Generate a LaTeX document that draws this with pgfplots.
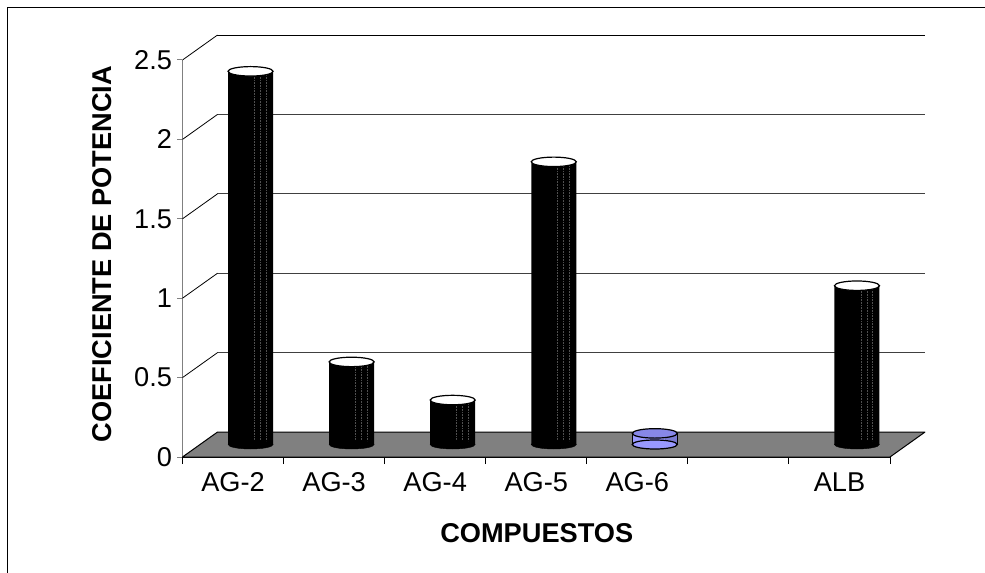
\documentclass[border=0pt]{standalone}
\usepackage{pgfplots}
\usepackage{pgfplotstable}
\pgfplotsset{compat=1.18}
\usepackage{fontspec}
\setmainfont{Liberation Sans}

\definecolor{floorgray}{HTML}{808080}
\definecolor{gridgray}{HTML}{404040}
\definecolor{facet}{HTML}{505050}
\definecolor{lav}{HTML}{9999FF}
\definecolor{lavtop}{HTML}{8787E8}
\definecolor{lavdark}{HTML}{7A7AD0}

% category position, base level, coefficient
\pgfplotstableread{
pos base val
0.5 0 2.35
1.5 0 0.52
2.5 0 0.28
3.5 0 1.78
6.5 0 1.00
}\blackcyl
\pgfplotstableread{
pos base val
4.5 0 0.07
}\bluecyl

\newcommand{\chartfont}{\fontsize{27.2bp}{32bp}\selectfont}

\begin{document}
\begin{tikzpicture}
\begin{axis}[
  scale only axis,
  width=707.5bp, height=397bp,
  xmin=0, xmax=7, ymin=0, ymax=2.5,
  clip=false,
  axis lines*=left,
  x axis line style={black, line width=1bp},
  y axis line style={gray, line width=1bp},
  tick align=outside,
  ytick={0,0.5,...,2.5},
  xtick={0.5,1.5,...,6.5},
  xticklabels={AG-2,AG-3,AG-4,AG-5,AG-6,,ALB},
  minor xtick={0,1,...,7},
  major x tick style={draw=none},
  minor x tick style={black, line width=1bp},
  ytick style={gray, line width=1bp},
  major tick length=5bp,
  minor tick length=7bp,
  /pgf/number format/assume math mode=true,
  tick label style={font=\chartfont},
  xticklabel style={anchor=base, yshift=-29.5bp},
  yticklabel style={anchor=east, xshift=-2bp},
  xlabel={COMPUESTOS},
  ylabel={COEFICIENTE DE POTENCIA},
  xlabel style={font=\bfseries\chartfont, at={(axis description cs:0.5007,-0.1914)}, anchor=center},
  ylabel style={font=\bfseries\chartfont, at={(axis description cs:-0.1138,0.511)}, anchor=center},
]
% back wall gridlines
\addplot[gridgray, line width=1bp] coordinates {(0.346,0.657) (7.346,0.657)};
\addplot[gridgray, line width=1bp] coordinates {(0.346,1.157) (7.346,1.157)};
\addplot[gridgray, line width=1bp] coordinates {(0.346,1.657) (7.346,1.657)};
\addplot[gridgray, line width=1bp] coordinates {(0.346,2.157) (7.346,2.157)};
\addplot[black, line width=1bp] coordinates {(0.346,2.657) (7.346,2.657)};
% side wall edges from the value axis
\addplot[black, line width=0.8bp] coordinates {(0,0.5) (0.346,0.657)};
\addplot[black, line width=0.8bp] coordinates {(0,1.0) (0.346,1.157)};
\addplot[black, line width=0.8bp] coordinates {(0,1.5) (0.346,1.657)};
\addplot[black, line width=0.8bp] coordinates {(0,2.0) (0.346,2.157)};
\addplot[black, line width=0.8bp] coordinates {(0,2.5) (0.346,2.657)};
% floor
\addplot[fill=floorgray, draw=black, line width=1bp, line join=round]
  coordinates {(0,0) (7,0) (7.346,0.157) (0.346,0.157) (0,0)};

% black cylinders: bottom cap, body, facet lines, top cap
\addplot[only marks, mark=*, mark size=22.5bp,
  mark options={xshift=17.5bp, yshift=12.5bp, yscale=0.2, fill=black, draw=black}]
  table[x=pos, y=base]{\blackcyl};
\addplot[ybar, bar width=45bp, bar shift=0pt, fill=black, draw=none,
  xshift=17.5bp, yshift=12.5bp] table[x=pos, y=val]{\blackcyl};
\addplot[ycomb, facet, densely dotted, line width=0.6bp, xshift=21.5bp, yshift=12.5bp]
  table[x=pos, y=val]{\blackcyl};
\addplot[ycomb, facet, densely dotted, line width=0.6bp, xshift=27.5bp, yshift=12.5bp]
  table[x=pos, y=val]{\blackcyl};
\addplot[ycomb, facet, densely dotted, line width=0.6bp, xshift=33bp, yshift=12.5bp]
  table[x=pos, y=val]{\blackcyl};
\addplot[only marks, mark=*, mark size=22.5bp,
  mark options={xshift=17.5bp, yshift=12.5bp, yscale=0.21, fill=white, draw=black, line width=1.2bp}]
  table[x=pos, y=val]{\blackcyl};

% blue cylinder
\addplot[only marks, mark=*, mark size=22.5bp,
  mark options={xshift=17.5bp, yshift=12.5bp, yscale=0.2, fill=lav, draw=black, line width=1.2bp}]
  table[x=pos, y=base]{\bluecyl};
\addplot[ybar, bar width=45bp, bar shift=0pt, fill=lav, draw=none,
  xshift=17.5bp, yshift=12.5bp] table[x=pos, y=val]{\bluecyl};
\addplot[ybar, bar width=12bp, bar shift=0pt, fill=lavdark, draw=none,
  xshift=33.5bp, yshift=12.5bp] table[x=pos, y=val]{\bluecyl};
\addplot[ycomb, black, line width=1.2bp, xshift=-5bp, yshift=12.5bp]
  table[x=pos, y=val]{\bluecyl};
\addplot[ycomb, black, line width=1.2bp, xshift=40bp, yshift=12.5bp]
  table[x=pos, y=val]{\bluecyl};
\addplot[only marks, mark=*, mark size=22.5bp,
  mark options={xshift=17.5bp, yshift=12.5bp, yscale=0.21, fill=lavtop, draw=black, line width=1.2bp}]
  table[x=pos, y=val]{\bluecyl};
\end{axis}
% chart area border
\draw[black, line width=1bp] (-174.5bp,-300bp) rectangle (1100bp,449bp);
\pgfresetboundingbox
\useasboundingbox (-182.5bp,-116bp) rectangle (802.5bp,457bp);
\end{tikzpicture}
\end{document}
